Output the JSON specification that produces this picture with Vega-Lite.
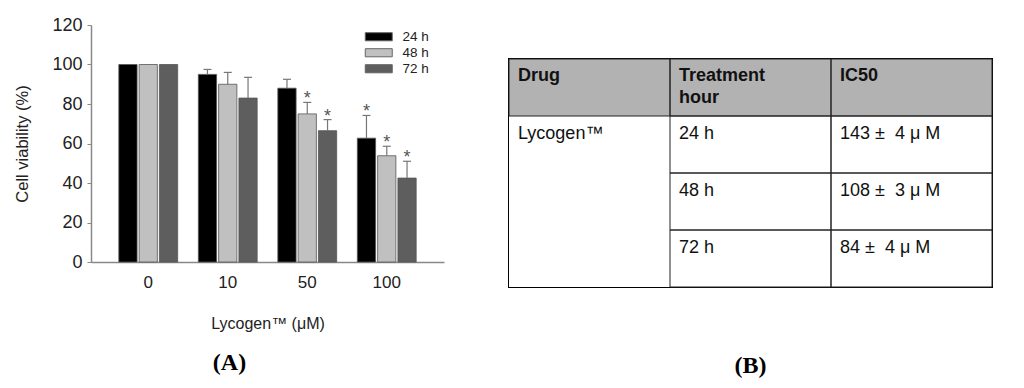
{
  "$schema": "https://vega.github.io/schema/vega-lite/v6.json",
  "padding": {"left": 14, "top": 16, "right": 0, "bottom": 0},
  "spacing": 63,
  "config": {"font": "Liberation Sans", "view": {"stroke": null}, "axisY": {"labelOverlap": false}},
  "datasets": {
    "bars": [
      {"conc": "0", "time": "24 h", "mean": 100, "upper": null, "sig": false},
      {"conc": "0", "time": "48 h", "mean": 100, "upper": null, "sig": false},
      {"conc": "0", "time": "72 h", "mean": 100, "upper": null, "sig": false},
      {"conc": "10", "time": "24 h", "mean": 95, "upper": 97.5, "sig": false},
      {"conc": "10", "time": "48 h", "mean": 90, "upper": 96, "sig": false},
      {"conc": "10", "time": "72 h", "mean": 83, "upper": 93.5, "sig": false},
      {"conc": "50", "time": "24 h", "mean": 88, "upper": 92.5, "sig": false},
      {"conc": "50", "time": "48 h", "mean": 75, "upper": 80.8, "sig": true},
      {"conc": "50", "time": "72 h", "mean": 66.5, "upper": 72.1, "sig": true},
      {"conc": "100", "time": "24 h", "mean": 62.7, "upper": 74.2, "sig": true},
      {"conc": "100", "time": "48 h", "mean": 53.8, "upper": 58.6, "sig": true},
      {"conc": "100", "time": "72 h", "mean": 42.5, "upper": 51, "sig": true}
    ],
    "table": [
      {"col": "Drug", "row": "header", "text": "Drug", "header": true},
      {"col": "Treatment hour", "row": "header", "text": "Treatment\nhour", "header": true},
      {"col": "IC50", "row": "header", "text": "IC50", "header": true},
      {"col": "Drug", "row": "24 h", "text": "Lycogen™", "header": false},
      {"col": "Drug", "row": "48 h", "text": "", "header": false},
      {"col": "Drug", "row": "72 h", "text": "", "header": false},
      {"col": "Treatment hour", "row": "24 h", "text": "24 h", "header": false},
      {"col": "Treatment hour", "row": "48 h", "text": "48 h", "header": false},
      {"col": "Treatment hour", "row": "72 h", "text": "72 h", "header": false},
      {"col": "IC50", "row": "24 h", "text": "143 ±\u00a0 4 μ M", "header": false},
      {"col": "IC50", "row": "48 h", "text": "108 ±\u00a0 3 μ M", "header": false},
      {"col": "IC50", "row": "72 h", "text": "84 ±\u00a0 4 μ M", "header": false}
    ]
  },
  "hconcat": [
    {
      "width": 353,
      "height": 237,
      "title": {"text": "(A)", "orient": "bottom", "font": "Liberation Serif", "fontWeight": "bold", "fontSize": 24, "color": "#000", "anchor": "middle", "frame": "bounds", "offset": 20},
      "data": {"name": "bars"},
      "encoding": {
        "x": {
          "field": "conc", "type": "nominal", "sort": ["0", "10", "50", "100"],
          "scale": {"paddingInner": 0.26, "paddingOuter": 0.35},
          "axis": {"title": "Lycogen™ (μM)", "labelAngle": 0, "labelFontSize": 17, "labelColor": "#222", "labelPadding": 12, "ticks": false, "tickSize": 0, "domainColor": "#888", "domainWidth": 1.5, "titleFontSize": 16, "titleFontWeight": "normal", "titleColor": "#222", "titlePadding": 25}
        },
        "xOffset": {"field": "time", "type": "nominal", "sort": ["24 h", "48 h", "72 h"], "scale": {"paddingInner": 0.1}}
      },
      "layer": [
        {
          "mark": {"type": "bar", "stroke": "#555", "strokeWidth": 0.8},
          "encoding": {
            "y": {
              "field": "mean", "type": "quantitative",
              "scale": {"domain": [0, 120], "nice": false},
              "axis": {"title": "Cell viability (%)", "values": [0, 20, 40, 60, 80, 100, 120], "labelOverlap": false, "grid": false, "labelFontSize": 18, "labelColor": "#222", "labelPadding": 5, "tickColor": "#888", "tickSize": 4, "domainColor": "#888", "domainWidth": 1.5, "titleFontSize": 16.5, "titleFontWeight": "normal", "titleColor": "#222", "titlePadding": 21}
            },
            "fill": {
              "field": "time", "type": "nominal",
              "scale": {"domain": ["24 h", "48 h", "72 h"], "range": ["#000000", "#c0c0c0", "#5e5e5e"]},
              "legend": {"title": null, "orient": "none", "legendX": 281, "legendY": 5, "symbolType": "M-3,-0.9H3V0.9H-3Z", "symbolSize": 81, "symbolStrokeColor": "#666", "symbolStrokeWidth": 1, "symbolOpacity": 1, "labelFontSize": 13.5, "labelColor": "#222", "labelOffset": 17, "rowPadding": 1}
            }
          }
        },
        {
          "transform": [{"filter": "datum.upper != null"}],
          "mark": {"type": "rule", "color": "#777", "strokeWidth": 1.2},
          "encoding": {
            "y": {
              "field": "mean", "type": "quantitative",
              "scale": {"domain": [0, 120], "nice": false},
              "axis": {"title": "Cell viability (%)", "values": [0, 20, 40, 60, 80, 100, 120], "labelOverlap": false, "grid": false, "labelFontSize": 18, "labelColor": "#222", "labelPadding": 5, "tickColor": "#888", "tickSize": 4, "domainColor": "#888", "domainWidth": 1.5, "titleFontSize": 16.5, "titleFontWeight": "normal", "titleColor": "#222", "titlePadding": 21}
            },
            "y2": {"field": "upper"}
          }
        },
        {
          "transform": [{"filter": "datum.upper != null"}],
          "mark": {"type": "tick", "color": "#777", "thickness": 1.2, "size": 8, "opacity": 1},
          "encoding": {
            "y": {
              "field": "upper", "type": "quantitative",
              "scale": {"domain": [0, 120], "nice": false},
              "axis": {"title": "Cell viability (%)", "values": [0, 20, 40, 60, 80, 100, 120], "labelOverlap": false, "grid": false, "labelFontSize": 18, "labelColor": "#222", "labelPadding": 5, "tickColor": "#888", "tickSize": 4, "domainColor": "#888", "domainWidth": 1.5, "titleFontSize": 16.5, "titleFontWeight": "normal", "titleColor": "#222", "titlePadding": 21}
            }
          }
        },
        {
          "transform": [{"filter": "datum.sig"}],
          "mark": {"type": "text", "text": "*", "fontSize": 18, "color": "#555", "baseline": "alphabetic", "dy": 2},
          "encoding": {
            "y": {
              "field": "upper", "type": "quantitative",
              "scale": {"domain": [0, 120], "nice": false},
              "axis": {"title": "Cell viability (%)", "values": [0, 20, 40, 60, 80, 100, 120], "labelOverlap": false, "grid": false, "labelFontSize": 18, "labelColor": "#222", "labelPadding": 5, "tickColor": "#888", "tickSize": 4, "domainColor": "#888", "domainWidth": 1.5, "titleFontSize": 16.5, "titleFontWeight": "normal", "titleColor": "#222", "titlePadding": 21}
            }
          }
        }
      ]
    },
    {
      "title": {"text": "(B)", "orient": "bottom", "font": "Liberation Serif", "fontWeight": "bold", "fontSize": 24, "color": "#000", "anchor": "middle", "offset": 65},
      "spacing": 31,
      "vconcat": [
        {
          "width": 483,
          "height": 1,
          "view": {"fill": "#ffffff", "stroke": null},
          "data": {"values": []},
          "mark": {"type": "rule"},
          "encoding": {}
        },
        {
          "width": 483,
          "height": 228,
          "view": {"stroke": "#000", "strokeWidth": 2},
          "data": {"name": "table"},
          "encoding": {
            "x": {"field": "col", "type": "nominal", "sort": ["Drug", "Treatment hour", "IC50"], "axis": null, "scale": {"paddingInner": 0, "paddingOuter": 0}},
            "y": {"field": "row", "type": "nominal", "sort": ["header", "24 h", "48 h", "72 h"], "axis": null, "scale": {"paddingInner": 0, "paddingOuter": 0}}
          },
          "layer": [
            {
              "mark": {"type": "rect"},
              "encoding": {"fill": {"condition": {"test": "datum.header", "value": "#b2b2b2"}, "value": "#ffffff"}}
            },
            {
              "transform": [{"filter": "datum.header || datum.col != 'Drug'"}],
              "mark": {"type": "rect", "filled": false, "stroke": "#222", "strokeWidth": 1}
            },
            {
              "transform": [{"filter": "datum.header"}],
              "mark": {"type": "text", "align": "left", "baseline": "alphabetic", "dx": 9, "dy": 22, "fontSize": 18, "fontWeight": "bold", "lineHeight": 22, "lineBreak": "\n", "color": "#111"},
              "encoding": {
                "x": {"field": "col", "type": "nominal", "sort": ["Drug", "Treatment hour", "IC50"], "bandPosition": 0},
                "y": {"field": "row", "type": "nominal", "sort": ["header", "24 h", "48 h", "72 h"], "bandPosition": 0},
                "text": {"field": "text"}
              }
            },
            {
              "transform": [{"filter": "!datum.header"}],
              "mark": {"type": "text", "align": "left", "baseline": "alphabetic", "dx": 9, "dy": 23, "fontSize": 18, "color": "#111"},
              "encoding": {
                "x": {"field": "col", "type": "nominal", "sort": ["Drug", "Treatment hour", "IC50"], "bandPosition": 0},
                "y": {"field": "row", "type": "nominal", "sort": ["header", "24 h", "48 h", "72 h"], "bandPosition": 0},
                "text": {"field": "text"}
              }
            }
          ]
        }
      ]
    }
  ]
}
